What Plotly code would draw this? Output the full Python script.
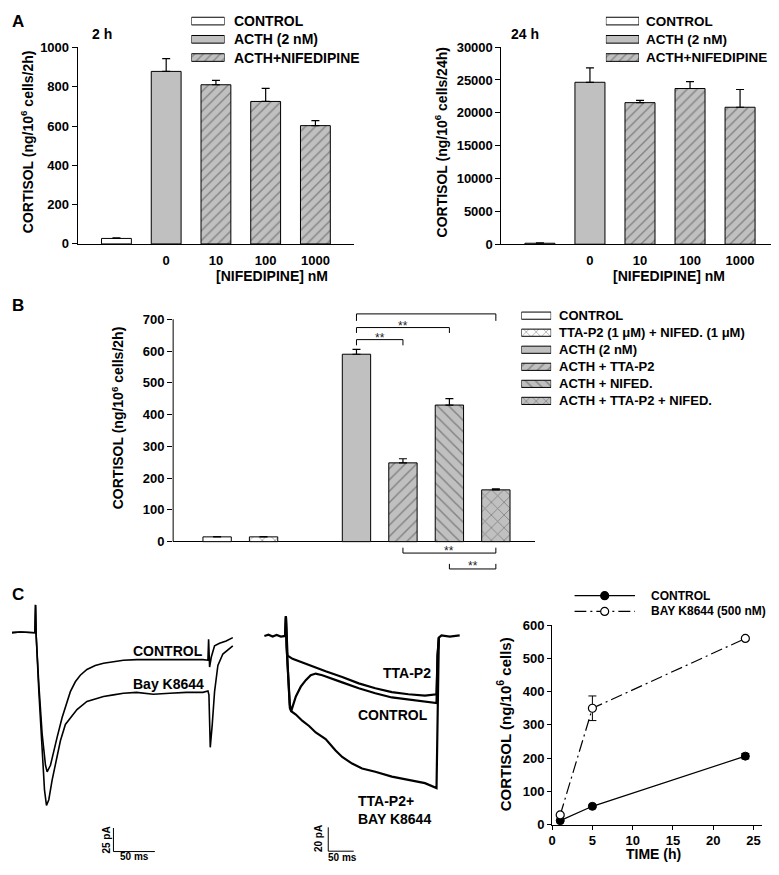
import plotly.graph_objects as go

# Page is 779 x 875; the browser keeps its default 8 px body margin,
# so the figure itself is 763 x 859 and sits at (8, 8).
W, H = 779, 875
OFF = 8
FW, FH = W - 2 * OFF, H - 2 * OFF
GRAY = '#c0c0c0'
FONT = 'Liberation Sans, Arial, sans-serif'

# ---------------- DATA ----------------
# Panel A, 2 h
a_pos = [0, 1, 2, 3, 4]
a_tickvals = [1, 2, 3, 4]
a_ticktext = ['0', '10', '100', '1000']
a2h_vals = [28, 878, 810, 725, 602]
a2h_err = [3, 65, 22, 67, 25]
# Panel A, 24 h
a24h_vals = [150, 24650, 21550, 23700, 20850]
a24h_err = [60, 2200, 350, 1050, 2700]
a_fill = ['white', GRAY, GRAY, GRAY, GRAY]
a_pattern = ['', '', '/', '/', '/']
a_legend_labels = ['CONTROL', 'ACTH (2 nM)', 'ACTH+NIFEDIPINE']
a_legend_fill = ['white', GRAY, GRAY]
a_legend_pattern = ['', '', '/']

# Panel B
b_pos = [0, 1, 3, 4, 5, 6]
b_vals = [15, 15, 590, 248, 430, 163]
b_err = [1, 1, 15, 13, 20, 3]
b_fill = ['white', 'white', GRAY, GRAY, GRAY, GRAY]
b_pattern = ['', 'x', '', '/', '\\', 'x']
b_legend_labels = ['CONTROL', 'TTA-P2 (1 μM) + NIFED. (1 μM)', 'ACTH (2 nM)',
                   'ACTH + TTA-P2', 'ACTH + NIFED.', 'ACTH + TTA-P2 + NIFED.']
sig_x0 = [3, 3, 3, 4, 5]
sig_x1 = [6, 5, 4, 6, 6]
sig_y = [717, 674, 636, -36, -86]
sig_tick_y = [695, 657, 618, -19, -70]
sig_star_x = [4.25, 4.0, 3.5, 5.0, 5.5]
sig_star_y = [728, 680, 642, -30, -78]

# Panel C, left currents (ms, pA)
ctrlL_t = [0, 0, 12, 24, 29.2, 30, 30.8, 34, 38, 42, 44, 48, 52, 56, 62, 68, 72, 78, 84, 92,
           102, 112, 124, 136, 152, 172, 192, 212, 232, 238, 238.8, 240, 242, 246, 252, 260, 268]
ctrlL_i = [-15.6, 0, 0.7, -0.3, 0, 29.5, -3.5, -55.5, -107.6, -140.5, -147.5, -140.5, -124.9, -111,
           -90.2, -72.9, -62.5, -52, -45.1, -38.9, -34.7, -32.3, -30.5, -29.1, -28.5, -28.5, -27.8,
           -28.5, -28.5, -29.1, -6.9, -36.4, -26, -13.9, -11.1, -8.7, -5.2]
bayL_t = [0, 0, 12, 24, 29.2, 30, 30.8, 34, 38, 40.8, 43.2, 46, 50, 54, 60, 66, 72, 80, 92, 104,
          112, 124, 136, 152, 172, 192, 212, 232, 238, 239.2, 240.8, 243.2, 246, 250, 256, 268]
bayL_i = [-15.6, 0, 0.7, -0.3, 0, 29.5, -3.5, -62.5, -124.9, -166.6, -183.2, -177, -156.2, -138.8,
          -114.5, -97.2, -90.2, -81.5, -72.9, -69.4, -67.7, -65.9, -64.2, -63.2, -65.2, -64.2, -63.2,
          -63.2, -61.8, -65.9, -121.5, -97.2, -62.5, -34.7, -22.6, -13.9]
# Panel C, middle currents (ms, pA)
tta_t = [0, 8, 16.3, 24, 32.5, 41, 42.3, 43.6, 45.5, 55.3, 71.5, 87.8, 120.3, 152.8, 185.3, 217.8,
         250.3, 282.8, 315.3, 338, 340, 342.6, 347.8, 364, 383.5]
tta_i = [0, 1, -0.5, 0.8, -0.5, 0, 16.4, -8.2, -16.4, -19.2, -21.9, -24.7, -29.6, -34.3, -39.7,
         -43.8, -47.1, -48.8, -49.9, -48.8, -16.4, -1.4, 0.5, -0.5, 0.5]
ctrlM_t = [41, 42.3, 43.6, 46.8, 50, 52.7, 56.6, 61.8, 71.5, 81.3, 91, 100.8, 113.8, 133.3, 152.8,
           185.3, 217.8, 250.3, 282.8, 315.3, 338, 340, 342.6]
ctrlM_i = [0, 16.4, -8.2, -35.6, -57.5, -63, -57.5, -50.7, -42.5, -37, -32.9, -31.5, -32.9, -36.2,
           -38.9, -43.8, -48, -51.5, -53.4, -54.8, -56.2, -16.4, -1.4]
ttabay_t = [41, 42.3, 43.6, 46.8, 50, 52.7, 61.8, 74.8, 87.8, 100.8, 120.3, 139.8, 152.8, 172.3,
            191.8, 217.8, 250.3, 282.8, 315.3, 338, 340, 341.3, 342.6]
ttabay_i = [0, 16.4, -8.2, -38.4, -60.3, -63, -65.8, -71.2, -75.4, -80.8, -86.3, -95.9, -101.4,
            -106.9, -111, -113.7, -117.8, -120.6, -123.3, -127.4, -57.5, -16.4, -1.4]
scaleL = dict(t0=124, i0=-232, dt=50, di=25)
scaleM = dict(t0=125.4, i0=-180.3, dt=50, di=20)

# Panel C, time course
tc_time = [1, 5, 24]
tc_ctrl = [12, 55, 206]
tc_ctrl_err = [3, 4, 8]
tc_bay = [29, 350, 560]
tc_bay_err = [5, 37, 5]
tc_legend_labels = ['CONTROL', 'BAY K8644 (500 nM)']


# ---------------- HELPERS (page pixel -> paper) ----------------
def fx(p):
    return (p - OFF) / FW


def fy(p):
    return 1 - (p - OFF) / FH


def clampx(p):
    return min(max(p, OFF), W - OFF)


def clampy(p):
    return min(max(p, OFF), H - OFF)


def xaxis_px(p_lo, p_hi, p0, v0, p1, v1):
    """domain/range for an x axis whose value v0 sits at page px p0 and v1 at p1."""
    lo, hi = clampx(p_lo), clampx(p_hi)
    k = (v1 - v0) / (p1 - p0)
    return dict(domain=[fx(lo), fx(hi)], range=[v0 + (lo - p0) * k, v0 + (hi - p0) * k])


def yaxis_px(p_top, p_bot, p0, v0, p1, v1, reverse=False):
    top, bot = clampy(p_top), clampy(p_bot)
    k = (v1 - v0) / (p1 - p0)
    rb, rt = v0 + (bot - p0) * k, v0 + (top - p0) * k
    return dict(domain=[fy(bot), fy(top)], range=[rb, rt])


def bold(size):
    return dict(family=FONT, size=size, color='black', weight='bold')


fig = go.Figure()
ann = []
shapes = []


def text(x, y, s, size, xanchor='center', yanchor='middle', angle=0, xref='paper', yref='paper',
         weight='bold', align='center'):
    if xref == 'paper':
        x = fx(x)
    if yref == 'paper':
        y = fy(y)
    ann.append(dict(x=x, y=y, xref=xref, yref=yref, text=s, showarrow=False, xanchor=xanchor,
                    yanchor=yanchor, textangle=angle, align=align, borderpad=0,
                    font=dict(family=FONT, size=size, color='black', weight=weight)))


def bar_trace(x, y, err, fill, pattern, xa, ya, width, psize, sol):
    return go.Bar(x=x, y=y, width=width, xaxis=xa, yaxis=ya, showlegend=False,
                  marker=dict(color=fill, line=dict(color='black', width=1),
                              pattern=dict(shape=pattern, bgcolor=fill, fgcolor='black',
                                           size=psize, solidity=sol)),
                  error_y=dict(type='data', symmetric=False, array=err, arrayminus=[0] * len(err),
                               color='black', thickness=1.2, width=4))


def legend_bars(labels, fill, pattern, xa, ya, psize, sol):
    n = len(labels)
    return go.Bar(y=list(range(n)), x=[1] * n, base=0, orientation='h', width=0.42,
                  xaxis=xa, yaxis=ya, showlegend=False, cliponaxis=False,
                  marker=dict(color=fill, line=dict(color='black', width=1),
                              pattern=dict(shape=pattern, bgcolor=fill, fgcolor='black',
                                           size=psize, solidity=sol)))


# ---------------- PANEL A ----------------
fig.add_trace(bar_trace(a_pos, a2h_vals, a2h_err, a_fill, a_pattern, 'x', 'y', 0.6, 7, 0.2))
fig.add_trace(bar_trace(a_pos, a24h_vals, a24h_err, a_fill, a_pattern, 'x2', 'y2', 0.6, 7, 0.2))
fig.add_trace(legend_bars(a_legend_labels, a_legend_fill, a_legend_pattern, 'x7', 'y7', 6, 0.2))
fig.add_trace(legend_bars(a_legend_labels, a_legend_fill, a_legend_pattern, 'x8', 'y8', 6, 0.2))

# ---------------- PANEL B ----------------
b_psize = [8, 9, 8, 8, 8, 9]
fig.add_trace(bar_trace(b_pos, b_vals, b_err, b_fill, b_pattern, 'x3', 'y3', 0.61, b_psize, 0.18))
fig.add_trace(legend_bars(b_legend_labels, b_fill, b_pattern, 'x9', 'y9', 7, 0.2))
for x0, x1, yl, yt in zip(sig_x0, sig_x1, sig_y, sig_tick_y):
    fig.add_trace(go.Scatter(x=[x0, x0, x1, x1], y=[yt, yl, yl, yt], mode='lines', xaxis='x3', yaxis='y3',
                             line=dict(color='black', width=1), showlegend=False, hoverinfo='skip'))
for sx, sy in zip(sig_star_x, sig_star_y):
    ann.append(dict(x=sx, y=sy, xref='x3', yref='y3', text='**', showarrow=False, borderpad=0,
                    font=dict(family=FONT, size=12, color='#222')))
shapes.append(dict(type='line', xref='x3 domain', x0=0, x1=0, yref='y3', y0=0, y1=700,
                   line=dict(color='black', width=1)))

# ---------------- PANEL C: currents ----------------
for t, i in [(ctrlL_t, ctrlL_i), (bayL_t, bayL_i)]:
    fig.add_trace(go.Scatter(x=t, y=i, mode='lines', xaxis='x4', yaxis='y4', showlegend=False,
                             line=dict(color='black', width=1.6)))
for t, i in [(tta_t, tta_i), (ctrlM_t, ctrlM_i), (ttabay_t, ttabay_i)]:
    fig.add_trace(go.Scatter(x=t, y=i, mode='lines', xaxis='x5', yaxis='y5', showlegend=False,
                             line=dict(color='black', width=2.2)))
for sc, xa, ya in [(scaleL, 'x4', 'y4'), (scaleM, 'x5', 'y5')]:
    fig.add_trace(go.Scatter(x=[sc['t0'], sc['t0'], sc['t0'] + sc['dt']],
                             y=[sc['i0'] + sc['di'], sc['i0'], sc['i0']], mode='lines',
                             xaxis=xa, yaxis=ya, showlegend=False, line=dict(color='black', width=1)))

# ---------------- PANEL C: time course ----------------
DASHDOT = '12px,4px,2px,4px'
fig.add_trace(go.Scatter(x=tc_time, y=tc_ctrl, mode='lines+markers', xaxis='x6', yaxis='y6',
                         showlegend=False, cliponaxis=False,
                         line=dict(color='black', width=1.2),
                         marker=dict(symbol='circle', size=8, color='black', line=dict(color='black', width=1)),
                         error_y=dict(type='data', array=tc_ctrl_err, color='black', thickness=1, width=4)))
fig.add_trace(go.Scatter(x=tc_time, y=tc_bay, mode='lines+markers', xaxis='x6', yaxis='y6',
                         showlegend=False, cliponaxis=False,
                         line=dict(color='black', width=1.2, dash=DASHDOT),
                         marker=dict(symbol='circle', size=8, color='white', line=dict(color='black', width=1.2)),
                         error_y=dict(type='data', array=tc_bay_err, color='black', thickness=1, width=4)))
fig.add_trace(go.Scatter(x=[0, 1], y=[0, 0], mode='lines', xaxis='x10', yaxis='y10', showlegend=False,
                         line=dict(color='black', width=1.2)))
fig.add_trace(go.Scatter(x=[0, 1], y=[1, 1], mode='lines', xaxis='x10', yaxis='y10', showlegend=False,
                         line=dict(color='black', width=1.2, dash=DASHDOT)))
fig.add_trace(go.Scatter(x=[0.5, 0.5], y=[0, 1], mode='markers', xaxis='x10', yaxis='y10', showlegend=False,
                         cliponaxis=False,
                         marker=dict(size=8, color=['black', 'white'], line=dict(color='black', width=1.2))))

# ---------------- AXES ----------------
hidden = dict(visible=False, showgrid=False, zeroline=False, fixedrange=True)
tickfont = bold(13)
vis_line = dict(showline=True, linecolor='black', linewidth=1, showgrid=False, zeroline=False)
xA_ticks = dict(tickvals=a_tickvals, ticktext=a_ticktext, ticks='outside', ticklen=4,
                tickcolor='rgba(0,0,0,0)', tickfont=tickfont)
y_ticks = dict(ticks='outside', ticklen=5, tickcolor='black', tickfont=tickfont)

layout_axes = dict(
    xaxis=dict(**xaxis_px(74, 352, 113, 0, 313, 4), **vis_line, **xA_ticks, anchor='y'),
    yaxis=dict(**yaxis_px(41, 241, 241, 0, 41, 1000), **vis_line, **y_ticks, dtick=200, anchor='x'),
    xaxis2=dict(**xaxis_px(500, 779, 538.7, 0, 739.9, 4), **vis_line, **xA_ticks, anchor='y2'),
    yaxis2=dict(**yaxis_px(40.7, 241.3, 241.3, 0, 40.7, 30000), **vis_line, **y_ticks, dtick=5000,
                tickformat='d', anchor='x2'),
    xaxis3=dict(**xaxis_px(170, 534, 214.2, 0, 494.4, 6), showticklabels=False, ticks='',
                showline=False, showgrid=False, zeroline=False, anchor='y3'),
    yaxis3=dict(**yaxis_px(309.6, 574.7, 544, 0, 317.7, 700), tickvals=[0, 100, 200, 300, 400, 500, 600, 700],
                showline=False, **y_ticks, showgrid=False, zeroline=True, zerolinecolor='black',
                zerolinewidth=1, anchor='x3'),
    xaxis4=dict(**xaxis_px(0, 240, 6.67, 0, 48.33, 50), anchor='y4', **hidden),
    yaxis4=dict(**yaxis_px(600, 875, 636.7, 0, 660.7, -25), anchor='x4', **hidden),
    xaxis5=dict(**xaxis_px(245, 470, 261.7, 0, 287.3, 50), anchor='y5', **hidden),
    yaxis5=dict(**yaxis_px(600, 875, 640, 0, 664.3, -20), anchor='x5', **hidden),
    xaxis6=dict(**xaxis_px(551, 761.7, 551, 0, 753.3, 25), tickvals=[0, 5, 10, 15, 20, 25], **vis_line,
                ticks='outside', ticklen=4, tickcolor='black', tickfont=bold(13), anchor='y6'),
    yaxis6=dict(**yaxis_px(629, 832, 832, 0, 629, 600), dtick=100, **vis_line,
                ticks='outside', ticklen=4, tickcolor='black', tickfont=bold(13), anchor='x6'),
    xaxis7=dict(**xaxis_px(188.3, 221.7, 188.3, 0, 221.7, 1), anchor='y7', **hidden),
    yaxis7=dict(**yaxis_px(4.9, 60.6, 14.2, 0, 51.3, 2), anchor='x7', **hidden),
    xaxis8=dict(**xaxis_px(605, 638.3, 605, 0, 638.3, 1), anchor='y8', **hidden),
    yaxis8=dict(**yaxis_px(4.9, 60.6, 14.2, 0, 51.3, 2), anchor='x8', **hidden),
    xaxis9=dict(**xaxis_px(520, 550, 520, 0, 550, 1), anchor='y9', **hidden),
    yaxis9=dict(**yaxis_px(305.35, 409.35, 314, 0, 400.75, 5), anchor='x9', **hidden),
    xaxis10=dict(**xaxis_px(573.3, 634.3, 573.3, 0, 634.3, 1), anchor='y10', **hidden),
    yaxis10=dict(**yaxis_px(591, 623, 599, 0, 615, 1), anchor='x10', **hidden),
)

# ---------------- TEXT ----------------
text(14.5, 15, 'A', 17)
text(14.5, 304, 'B', 17)
text(14.5, 598, 'C', 17)
text(98, 27, '2 h', 14)
text(524, 27, '24 h', 14)
for k, lab in enumerate(a_legend_labels):
    yy = 14.2 + k * 18.55
    text(230, yy, lab, 14, xanchor='left')
    text(644, yy, lab, 13.5, xanchor='left')
for k, lab in enumerate(b_legend_labels):
    text(557, 314 + k * 17.35, lab, 13, xanchor='left')
for k, lab in enumerate(tc_legend_labels):
    text(649, 599 + k * 16, lab, 12, xanchor='left')
text(22.5, 137, 'CORTISOL (ng/10<sup>6</sup> cells/2h)', 14, angle=-90)
text(439, 138, 'CORTISOL (ng/10<sup>6</sup> cells/24h)', 14, angle=-90)
text(114, 418, 'CORTISOL (ng/10<sup>6</sup> cells/2h)', 14, angle=-90)
text(502.5, 730, 'CORTISOL (ng/10<sup>6</sup> cells)', 15, angle=-90)
text(269.5, 274, '[NIFEDIPINE] nM', 14)
text(668, 274, '[NIFEDIPINE] nM', 14)
text(653, 861.5, 'TIME (h)', 14)
# trace labels (data coords)
text(190, -19, 'CONTROL', 14, xref='x4', yref='y4')
text(191, -54.4, 'Bay K8644', 14, xref='x4', yref='y4')
text(115.6, -219.8, '25 pA', 10, angle=-90, xref='x4', yref='y4')
text(149, -237.5, '50 ms', 10, xref='x4', yref='y4')
text(279.4, -31.2, 'TTA-P2', 14, xref='x5', yref='y5')
text(252, -65.8, 'CONTROL', 14, xref='x5', yref='y5')
text(182, -145.5, 'TTA-P2+<br>BAY K8644', 14, xanchor='left', xref='x5', yref='y5', align='left')
text(107.8, -169.9, '20 pA', 10, angle=-90, xref='x5', yref='y5')
text(152.7, -185.5, '50 ms', 10, xref='x5', yref='y5')

fig.update_layout(width=FW, height=FH, margin=dict(l=0, r=0, t=0, b=0), plot_bgcolor='white',
                  paper_bgcolor='white', barmode='overlay', showlegend=False,
                  annotations=ann, shapes=shapes, font=dict(family=FONT, color='black'),
                  **layout_axes)
fig.write_html('out.html', config={'displayModeBar': False})
